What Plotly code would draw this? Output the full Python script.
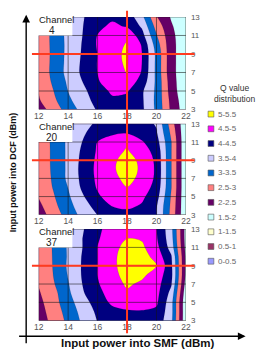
import plotly.graph_objects as go

# ---------------- data ----------------
smf_power = [12, 13, 14, 15, 16, 17, 18, 19, 20, 21, 22]   # x: input power into SMF (dBm)
dcf_power = [3, 4, 5, 6, 7, 8, 9, 10, 11, 12, 13]          # y: input power into DCF (dBm)

# Q value grid, one row per DCF power (3 ... 13), one column per SMF power (12 ... 22)
q_ch4 = [
    [2.25, 2.72, 3.22, 3.67, 4.05, 4.25, 4.25, 4.10, 3.40, 2.40, 1.70],
    [2.45, 2.89, 3.40, 3.80, 4.17, 4.42, 4.35, 4.08, 3.38, 2.35, 1.65],
    [2.52, 2.99, 3.51, 3.88, 4.29, 4.58, 4.55, 4.08, 3.40, 2.26, 1.60],
    [2.60, 3.08, 3.58, 4.01, 4.45, 4.78, 4.82, 4.30, 3.40, 2.22, 1.60],
    [2.62, 3.14, 3.66, 4.10, 4.51, 4.80, 5.02, 4.47, 3.38, 2.14, 1.70],
    [2.62, 3.13, 3.65, 4.09, 4.52, 4.93, 5.03, 4.51, 3.38, 2.14, 1.70],
    [2.62, 3.12, 3.64, 4.06, 4.51, 4.95, 5.03, 4.52, 3.38, 2.14, 1.70],
    [2.62, 3.13, 3.63, 4.04, 4.55, 4.82, 5.04, 4.47, 3.25, 2.14, 1.70],
    [2.62, 3.14, 3.64, 4.01, 4.52, 4.80, 4.92, 4.20, 3.03, 2.13, 1.65],
    [2.62, 3.14, 3.62, 3.99, 4.38, 4.60, 4.45, 3.93, 2.80, 2.06, 1.60],
    [2.62, 3.14, 3.60, 3.97, 4.25, 4.40, 4.30, 3.65, 2.53, 1.95, 1.55],
]
q_ch20 = [
    [2.25, 2.72, 3.22, 3.66, 4.01, 4.25, 4.35, 4.30, 4.02, 2.85, 1.55],
    [2.38, 2.86, 3.33, 3.80, 4.19, 4.53, 4.60, 4.46, 4.04, 2.90, 1.55],
    [2.53, 2.95, 3.43, 3.95, 4.43, 4.72, 4.80, 4.60, 4.20, 2.95, 1.55],
    [2.60, 3.03, 3.51, 4.10, 4.55, 4.82, 4.99, 4.75, 4.33, 3.02, 1.55],
    [2.63, 3.07, 3.60, 4.15, 4.60, 4.88, 5.12, 4.90, 4.40, 3.02, 1.55],
    [2.65, 3.09, 3.60, 4.18, 4.62, 4.93, 5.22, 4.92, 4.42, 3.02, 1.55],
    [2.65, 3.10, 3.60, 4.15, 4.60, 4.90, 5.20, 4.88, 4.40, 3.02, 1.55],
    [2.65, 3.10, 3.60, 4.10, 4.56, 4.82, 5.05, 4.70, 4.35, 3.02, 1.55],
    [2.65, 3.11, 3.60, 4.02, 4.51, 4.75, 4.92, 4.55, 4.20, 3.02, 1.55],
    [2.65, 3.11, 3.58, 3.93, 4.25, 4.42, 4.47, 4.30, 4.05, 2.90, 1.55],
    [2.65, 3.10, 3.55, 3.88, 4.06, 4.22, 4.30, 4.20, 3.95, 2.75, 1.55],
]
q_ch37 = [
    [2.25, 2.65, 3.12, 3.60, 4.02, 4.20, 4.30, 4.32, 4.30, 3.65, 1.55],
    [2.30, 2.72, 3.20, 3.68, 4.10, 4.35, 4.46, 4.47, 4.40, 3.70, 1.55],
    [2.36, 2.80, 3.30, 3.80, 4.23, 4.60, 4.68, 4.70, 4.58, 3.70, 1.55],
    [2.45, 2.83, 3.40, 3.95, 4.38, 4.68, 4.93, 4.80, 4.65, 3.85, 1.65],
    [2.53, 2.95, 3.47, 4.02, 4.46, 4.78, 5.07, 4.92, 4.70, 4.05, 1.80],
    [2.55, 3.01, 3.53, 4.06, 4.51, 4.85, 5.18, 5.10, 4.80, 4.15, 1.90],
    [2.55, 3.03, 3.57, 4.06, 4.51, 4.90, 5.22, 5.22, 5.02, 4.12, 1.91],
    [2.55, 3.04, 3.55, 4.05, 4.51, 4.88, 5.25, 5.25, 4.80, 4.05, 1.90],
    [2.55, 3.05, 3.56, 4.01, 4.51, 4.85, 5.15, 5.10, 4.65, 3.80, 1.85],
    [2.55, 3.05, 3.55, 4.01, 4.46, 4.72, 4.99, 4.95, 4.55, 3.70, 1.80],
    [2.55, 3.05, 3.53, 3.96, 4.41, 4.70, 4.85, 4.75, 4.52, 3.65, 1.80],
]
channels = ["4", "20", "37"]
band_labels = ["0-0.5", "0.5-1", "1-1.5", "1.5-2", "2-2.5", "2.5-3",
               "3-3.5", "3.5-4", "4-4.5", "4.5-5", "5-5.5"]
band_colors = ["#9999FF", "#993366", "#FFFFCC", "#CCFFFF", "#660066", "#FF8080",
               "#0066CC", "#CCCCFF", "#000080", "#FF00FF", "#FFFF00"]
band_step = 0.5
x_ticks = [12, 14, 16, 18, 20, 22]
y_ticks = [3, 5, 7, 9, 11, 13]
opt_smf = 18   # red marker line (SMF power)
opt_dcf = 9    # red marker line (DCF power)

# ---------------- layout helpers ----------------
W, H = 266, 351
FONT = "Liberation Sans, Arial, sans-serif"
XD = [35 / W, 188 / W]
YD = [[1 - 108.3 / H, 1 - 13.3 / H],
      [1 - 216.3 / H, 1 - 123.0 / H],
      [1 - 325.0 / H, 1 - 231.0 / H]]
XR = [smf_power[0], smf_power[-1]]
YR = [dcf_power[0], dcf_power[-1]]


def xp(v):
    return XD[0] + (v - XR[0]) / (XR[1] - XR[0]) * (XD[1] - XD[0])


def yp(v, i):
    d = YD[i]
    return d[0] + (v - YR[0]) / (YR[1] - YR[0]) * (d[1] - d[0])


# stepwise colorscale: band k sits at position k/(n-1)
n = len(band_colors)
cscale = []
for k, c in enumerate(band_colors):
    lo = max(0.0, (k - 0.5) / (n - 1))
    hi = min(1.0, (k + 0.5) / (n - 1))
    cscale += [[lo, c], [hi, c]]

fig = go.Figure()
grids = [q_ch4, q_ch20, q_ch37]
for i, z in enumerate(grids):
    sfx = "" if i == 0 else str(i + 1)
    fig.add_trace(go.Contour(
        x=smf_power, y=dcf_power, z=z,
        contours=dict(start=band_step, end=band_step * (n - 1), size=band_step,
                      coloring="fill"),
        colorscale=cscale, showscale=False,
        line=dict(width=0.4, color="rgba(0,0,0,0.3)", smoothing=1.0),
        xaxis="x" + sfx, yaxis="y" + sfx, hoverinfo="skip",
    ))

layout = dict(
    width=W, height=H, margin=dict(l=0, r=0, t=0, b=0),
    paper_bgcolor="white", plot_bgcolor="white", showlegend=False,
    font=dict(family=FONT, size=8, color="#555"),
)
for i in range(3):
    sfx = "" if i == 0 else str(i + 1)
    layout["xaxis" + sfx] = dict(
        domain=XD, anchor="y" + sfx, range=XR, tickvals=x_ticks,
        showgrid=False, zeroline=False, showline=False, ticks="",
        tickfont=dict(size=8.5, color="#555"), fixedrange=True,
    )
    layout["yaxis" + sfx] = dict(
        domain=YD[i], anchor="x" + sfx, range=YR, tickvals=y_ticks, side="right",
        showgrid=False, zeroline=False, showline=False, ticks="",
        tickfont=dict(size=8, color="#555"), fixedrange=True, ticklabelstandoff=4,
    )
fig.update_layout(**layout)

shapes = []
annotations = []
for i in range(3):
    sfx = "" if i == 0 else str(i + 1)
    # grid lines drawn above the filled contours
    for xv in x_ticks:
        shapes.append(dict(type="line", xref="x" + sfx, yref="y" + sfx,
                           x0=xv, x1=xv, y0=YR[0], y1=YR[1],
                           line=dict(color="rgba(20,20,20,0.7)", width=0.8), layer="above"))
    for yv in y_ticks:
        shapes.append(dict(type="line", xref="x" + sfx, yref="y" + sfx,
                           x0=XR[0], x1=XR[1], y0=yv, y1=yv,
                           line=dict(color="rgba(20,20,20,0.7)", width=0.8), layer="above"))
    # white label box in the top-left corner
    shapes.append(dict(type="rect", xref="paper", yref="paper",
                       x0=31 / W, x1=70 / W, y0=yp(11, i), y1=YD[i][1] + 3 / H,
                       fillcolor="white", line=dict(width=0), layer="above"))
    top_px = (1 - YD[i][1]) * H
    annotations.append(dict(text="Channel", xref="paper", yref="paper",
                            x=33 / W, y=1 - (top_px + 2.5) / H, xanchor="left", yanchor="middle",
                            showarrow=False, font=dict(size=9.5, color="#222", family=FONT)))
    annotations.append(dict(text=channels[i], xref="paper", yref="paper",
                            x=49 / W, y=1 - (top_px + 14) / H, xanchor="center", yanchor="middle",
                            showarrow=False, font=dict(size=10, color="#222", family=FONT)))
    # horizontal red line at the optimum DCF power
    shapes.append(dict(type="line", xref="paper", yref="paper",
                       x0=28 / W, x1=197 / W, y0=yp(opt_dcf, i), y1=yp(opt_dcf, i),
                       line=dict(color="#FF3B1F", width=2), layer="above"))

# vertical red line at the optimum SMF power, across the three panels
shapes.append(dict(type="line", xref="paper", yref="paper",
                   x0=xp(opt_smf), x1=xp(opt_smf), y0=1 - 338 / H, y1=1 - 7 / H,
                   line=dict(color="#FF3B1F", width=2), layer="above"))

# big axis arrows
annotations.append(dict(x=22 / W, y=1 - 11 / H, xref="paper", yref="paper", text="",
                        showarrow=True, ax=0, ay=330, arrowhead=2, arrowsize=1.1,
                        arrowwidth=1.4, arrowcolor="black", standoff=0))
annotations.append(dict(x=250 / W, y=1 - 341 / H, xref="paper", yref="paper", text="",
                        showarrow=True, ax=-228, ay=0, arrowhead=2, arrowsize=1.1,
                        arrowwidth=1.4, arrowcolor="black", standoff=0))

# axis titles
annotations.append(dict(text="<b>Input power into SMF (dBm)</b>", xref="paper", yref="paper",
                        x=138 / W, y=1 - 347.5 / H, xanchor="center", yanchor="middle",
                        showarrow=False, font=dict(size=11.5, color="#111", family=FONT)))
annotations.append(dict(text="<b>Input power into DCF (dBm)</b>", xref="paper", yref="paper",
                        x=8 / W, y=1 - 173 / H, xanchor="center", yanchor="middle", textangle=-90,
                        showarrow=False, font=dict(size=9, color="#111", family=FONT)))

# legend (built from the band arrays)
annotations.append(dict(text="Q value<br>distribution", xref="paper", yref="paper",
                        x=238 / W, y=1 - 92 / H, xanchor="center", yanchor="middle",
                        showarrow=False, align="center",
                        font=dict(size=8.5, color="#333", family=FONT)))
for j, k in enumerate(range(n - 1, -1, -1)):
    cy = 113 + 15.1 * j
    shapes.append(dict(type="rect", xref="paper", yref="paper",
                       x0=211 / W, x1=217 / W, y0=1 - (cy + 3) / H, y1=1 - (cy - 3) / H,
                       fillcolor=band_colors[k], line=dict(color="#555", width=0.6)))
    annotations.append(dict(text=band_labels[k], xref="paper", yref="paper",
                            x=219 / W, y=1 - cy / H, xanchor="left", yanchor="middle",
                            showarrow=False, font=dict(size=8, color="#666", family=FONT)))

fig.update_layout(shapes=shapes, annotations=annotations)
fig.write_html("out.html")
